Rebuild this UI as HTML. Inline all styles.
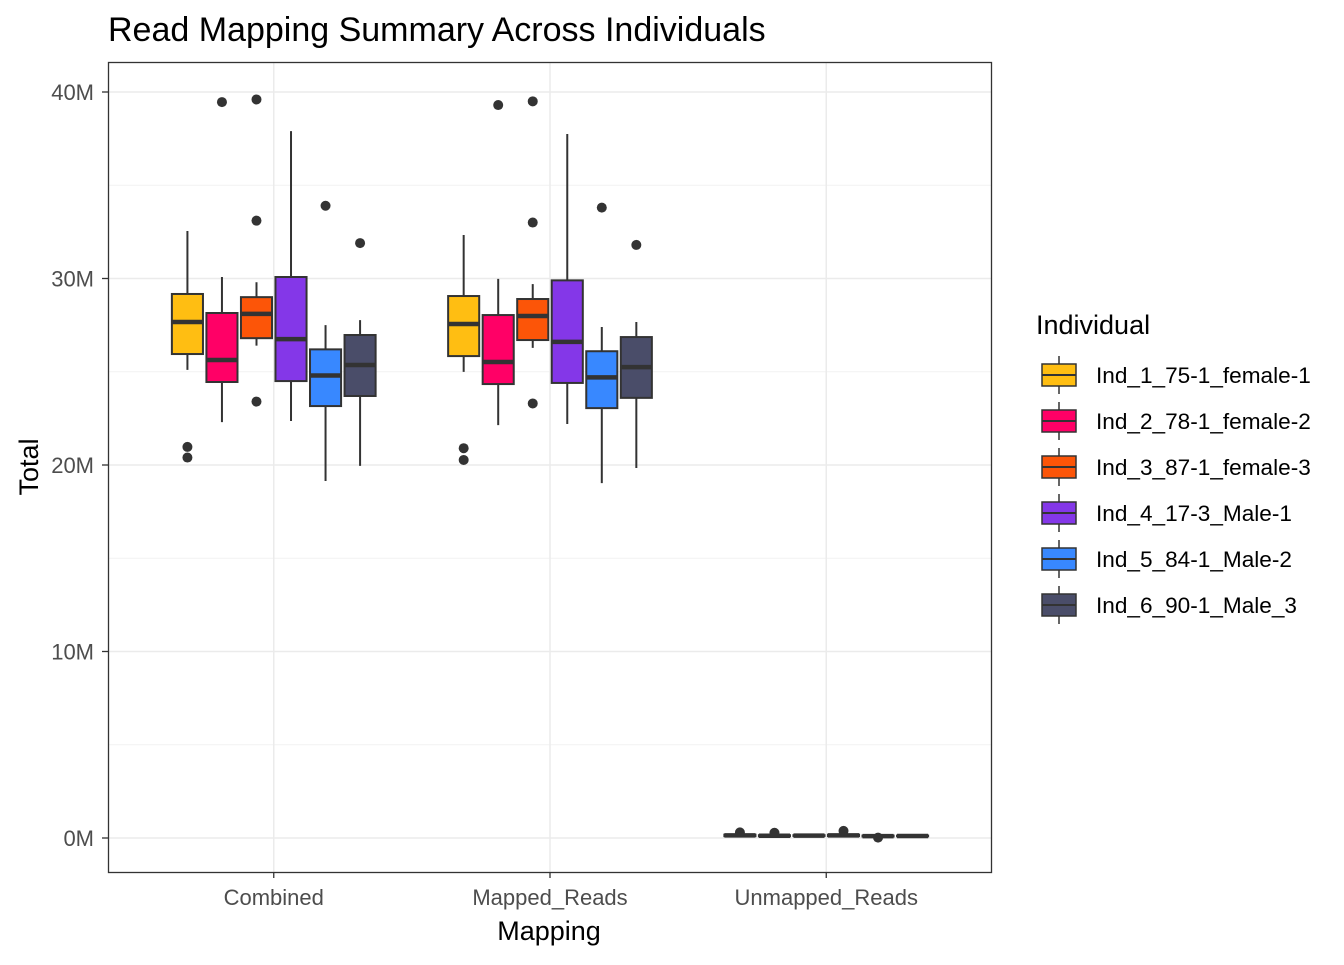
<!DOCTYPE html>
<html><head><meta charset="utf-8"><style>
body{margin:0;background:#fff;font-family:"Liberation Sans",Arial,sans-serif;}
svg text{font-family:"Liberation Sans",Arial,sans-serif;}
</style></head><body>
<svg id="c" width="1344" height="960" xmlns="http://www.w3.org/2000/svg">
<text x="108" y="41" font-size="34" fill="#000">Read Mapping Summary Across Individuals</text>
<g id="grid"></g>
<g id="marks"></g>
<rect x="108.5" y="62.5" width="883" height="810" fill="none" stroke="#333" stroke-width="1.3"/>
<g id="axes"></g>
<text x="549" y="940" font-size="27" text-anchor="middle" fill="#000">Mapping</text>
<text transform="translate(38,467) rotate(-90)" font-size="27" text-anchor="middle" fill="#000">Total</text>
<g id="legend"></g>
</svg>
<script>
const categories=["Combined","Mapped_Reads","Unmapped_Reads"];
const individuals=["Ind_1_75-1_female-1","Ind_2_78-1_female-2","Ind_3_87-1_female-3","Ind_4_17-3_Male-1","Ind_5_84-1_Male-2","Ind_6_90-1_Male_3"];
const colors=["#FFBE12","#FF0066","#FC5508","#8437E8","#3888FF","#4A4D69"];
const yTicks=[0,10,20,30,40];
// [low whisker, Q1, median, Q3, high whisker] in millions
const combinedStats=[[25.1,25.95,27.67,29.17,32.55],[22.3,24.45,25.63,28.15,30.08],[26.4,26.8,28.1,29.0,29.8],[22.36,24.5,26.75,30.08,37.9],[19.14,23.16,24.8,26.2,27.5],[19.95,23.7,25.36,26.97,27.77]];
const mappedStats=[[24.99,25.84,27.56,29.06,32.33],[22.14,24.34,25.52,28.04,29.98],[26.28,26.7,27.99,28.9,29.7],[22.2,24.4,26.6,29.9,37.75],[19.03,23.05,24.7,26.1,27.4],[19.84,23.6,25.25,26.86,27.67]];
const unmappedStats=[[0.08,0.1,0.14,0.18,0.2],[0.07,0.09,0.12,0.15,0.17],[0.09,0.11,0.13,0.15,0.16],[0.08,0.1,0.14,0.18,0.2],[0.06,0.08,0.1,0.13,0.15],[0.07,0.09,0.11,0.13,0.14]];
const combinedOutliers=[[20.97,20.4],[39.46],[39.6,33.1,23.4],[],[33.9],[31.9]];
const mappedOutliers=[[20.9,20.27],[39.3],[39.5,33.0,23.3],[],[33.8],[31.8]];
const unmappedOutliers=[[0.3],[0.28],[],[0.38],[0.02],[]];
const stats=[combinedStats,mappedStats,unmappedStats];
const outliers=[combinedOutliers,mappedOutliers,unmappedOutliers];

const NS="http://www.w3.org/2000/svg";
const y0=838,pxPerM=18.65;
function y(v){return y0-v*pxPerM;}
function xc(i){return 108+(i+1-0.4)*(884/3.2);}
const dodge=0.75*(884/3.2);
function xInd(i,j){return xc(i)-dodge/2+dodge/6*(j+0.5);}
const bw=dodge/6*0.9;
function mk(tag,attrs,parent){const e=document.createElementNS(NS,tag);for(const k in attrs)e.setAttribute(k,attrs[k]);parent.appendChild(e);return e;}
const grid=document.getElementById('grid'),marks=document.getElementById('marks'),axes=document.getElementById('axes'),legend=document.getElementById('legend');
for(let k=0;k<yTicks.length-1;k++){const v=(yTicks[k]+yTicks[k+1])/2;const l=mk('line',{x1:108,x2:992,y1:y(v),y2:y(v),stroke:'#F2F2F2','stroke-width':1},grid);

}
yTicks.forEach(t=>{const l=mk('line',{x1:108,x2:992,y1:y(t),y2:y(t),stroke:'#EBEBEB','stroke-width':1.5},grid);


const tk=mk('line',{x1:102,x2:108,y1:y(t),y2:y(t),stroke:'#333','stroke-width':1.3},axes);


const tx=mk('text',{x:94,y:y(t)+8,'font-size':22,'text-anchor':'end',fill:'#4D4D4D'},axes);tx.textContent=t+'M';

});
categories.forEach((c,i)=>{const l=mk('line',{x1:xc(i),x2:xc(i),y1:62,y2:872,stroke:'#EBEBEB','stroke-width':1.5},grid);


const tk=mk('line',{x1:xc(i),x2:xc(i),y1:872,y2:878,stroke:'#333','stroke-width':1.3},axes);


const tx=mk('text',{x:xc(i),y:905,'font-size':22,'text-anchor':'middle',fill:'#4D4D4D'},axes);tx.textContent=c;

});
categories.forEach((c,i)=>{individuals.forEach((ind,j)=>{const s=stats[i][j];const cx=xInd(i,j);
const g=mk('g',{},marks);


mk('line',{x1:cx,x2:cx,y1:y(s[4]),y2:y(s[0]),stroke:'#333','stroke-width':2},g);
mk('rect',{x:cx-bw/2,y:y(s[3]),width:bw,height:Math.max(y(s[1])-y(s[3]),0.5),fill:colors[j],stroke:'#333','stroke-width':2},g);
mk('line',{x1:cx-bw/2,x2:cx+bw/2,y1:y(s[2]),y2:y(s[2]),stroke:'#333','stroke-width':4.5},g);
outliers[i][j].forEach(o=>{const p=mk('circle',{cx:cx,cy:y(o),r:5,fill:'#333'},marks);

});});});
const lt=mk('text',{x:1036,y:334,'font-size':27,fill:'#000'},legend);lt.textContent='Individual';


individuals.forEach((ind,j)=>{const yy=375+j*46;const g=mk('g',{},legend);


mk('line',{x1:1059,x2:1059,y1:yy-19,y2:yy+19,stroke:'#333','stroke-width':1.5},g);
mk('rect',{x:1042,y:yy-11,width:34,height:22,fill:colors[j],stroke:'#333','stroke-width':1.5},g);
mk('line',{x1:1042,x2:1076,y1:yy,y2:yy,stroke:'#333','stroke-width':2},g);
const t=mk('text',{x:1096,y:yy+8,'font-size':22.6,fill:'#000'},g);t.textContent=ind;});
</script>
</body></html>
